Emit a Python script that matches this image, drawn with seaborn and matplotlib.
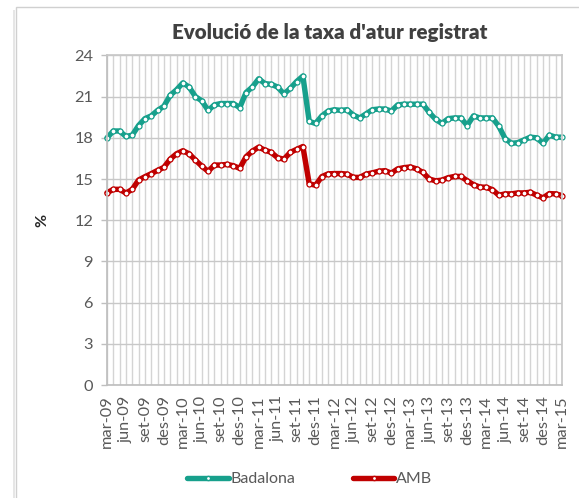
import numpy as np
import pandas as pd
import matplotlib
matplotlib.use("Agg")
import matplotlib.pyplot as plt
import seaborn as sns
from matplotlib.patches import Rectangle
from matplotlib.ticker import MultipleLocator

# monthly registered unemployment rate (%), mar-09 .. mar-15
month_names = ['gen', 'feb', 'mar', 'abr', 'mai', 'jun', 'jul', 'ago', 'set', 'oct', 'nov', 'des']
badalona = [18.0, 18.5, 18.5, 18.1, 18.2, 18.9, 19.4, 19.6, 20.0, 20.3, 21.1, 21.5,
            22.0, 21.7, 21.0, 20.7, 20.0, 20.4, 20.5, 20.5, 20.5, 20.2, 21.3, 21.7,
            22.3, 21.95, 21.9, 21.7, 21.2, 21.6, 22.1, 22.5, 19.2, 19.05, 19.6, 19.95,
            20.05, 20.0, 20.05, 19.65, 19.45, 19.75, 20.05, 20.1, 20.1, 19.95, 20.4, 20.45,
            20.45, 20.45, 20.45, 19.85, 19.35, 19.05, 19.4, 19.45, 19.45, 18.9, 19.6, 19.45,
            19.45, 19.45, 18.85, 17.95, 17.6, 17.65, 17.85, 18.05, 18.0, 17.6, 18.2, 18.05,
            18.05]
amb = [14.0, 14.25, 14.25, 13.98, 14.25, 14.93, 15.17, 15.39, 15.63, 15.85, 16.45, 16.84,
       17.06, 16.84, 16.38, 15.94, 15.56, 16.02, 16.02, 16.07, 15.97, 15.78, 16.62, 17.03,
       17.32, 17.11, 16.94, 16.55, 16.45, 16.94, 17.16, 17.37, 14.65, 14.55, 15.18, 15.38,
       15.4, 15.4, 15.36, 15.12, 15.12, 15.36, 15.45, 15.57, 15.61, 15.43, 15.74, 15.83,
       15.88, 15.74, 15.48, 15.0, 14.87, 14.92, 15.1, 15.19, 15.19, 14.88, 14.59, 14.42,
       14.4, 14.23, 13.82, 13.92, 13.92, 13.99, 13.99, 14.04, 13.82, 13.63, 13.94, 13.92,
       13.8]

# month labels, starting at march 2009
labels = []
for i in range(len(badalona)):
    m = (2 + i) % 12
    y = 9 + (2 + i) // 12
    labels.append(f"{month_names[m]}-{y:02d}")

df = pd.DataFrame({
    'idx': list(range(len(badalona))) * 2,
    'taxa': badalona + amb,
    'serie': ['Badalona'] * len(badalona) + ['AMB'] * len(amb),
})

sns.set_theme(style="white")
plt.rcParams['font.family'] = ['Lato', 'DejaVu Sans']

grey = '#595959'
colors = {'Badalona': '#17a08c', 'AMB': '#c00000'}

fig = plt.figure(figsize=(5.79, 4.98), dpi=100)
ax = fig.add_axes([0.1848, 0.2269, 0.7858, 0.6617])

sns.lineplot(data=df, x='idx', y='taxa', hue='serie', palette=colors, ax=ax,
             linewidth=3.9, marker='o', markersize=3.6, markerfacecolor='white',
             markeredgewidth=0.9, legend=False)
for line, name in zip(ax.get_lines(), ['Badalona', 'AMB']):
    line.set_markeredgecolor(colors[name])
    line.set_clip_on(False)

ax.set_xlim(0, len(badalona) - 1)
ax.set_ylim(0, 24)
ax.set_yticks(range(0, 25, 3))
ax.set_xticks(range(0, len(badalona), 3))
ax.set_xticklabels(labels[::3], rotation=90)
ax.xaxis.set_minor_locator(MultipleLocator(1))
ax.grid(True, axis='y', color='#c8c8c8', linewidth=1.0)
ax.grid(True, axis='x', which='both', color='#d4d4d4', linewidth=1.0)
ax.set_axisbelow(True)
ax.tick_params(axis='both', which='both', colors='#bfbfbf', labelcolor=grey,
               labelsize=11.8, length=4, width=1, direction='out')
ax.tick_params(axis='y', left=True, pad=6)
for s in ax.spines.values():
    s.set_color('#c8c8c8')
ax.spines['bottom'].set_color('#bfbfbf')
ax.spines['left'].set_color('#bfbfbf')
ax.set_xlabel('')
ax.set_ylabel('')

fig.text(0.0725, 0.558, '%', rotation=90, ha='center', va='center',
         fontsize=11.5, fontweight='bold', color='#262626')
fig.text(0.57, 0.934, "Evolució de la taxa d'atur registrat", ha='center', va='center',
         fontsize=14.8, fontweight='heavy', color='#404040')

handles = [plt.Line2D([], [], color=colors[n], linewidth=3.9, marker='o', markersize=3,
                      markerfacecolor='white', markeredgecolor=colors[n]) for n in colors]
fig.legend(handles, list(colors), loc='center', bbox_to_anchor=(0.535, 0.038), ncol=2,
           frameon=False, fontsize=11.5, handlelength=2.6, handletextpad=0.1,
           columnspacing=3.6, labelcolor=grey)

# chart area frame
fig.patches.append(Rectangle((0.0276, -0.05), 1.0, 1.036, transform=fig.transFigure,
                             fill=False, edgecolor='#d0d0d0', linewidth=1.0))
fig.patches.append(Rectangle((0.0226, -0.05), 0.004, 1.03, transform=fig.transFigure,
                             facecolor='#e6e6e6', edgecolor='none'))

fig.savefig('out.png', dpi=100)
